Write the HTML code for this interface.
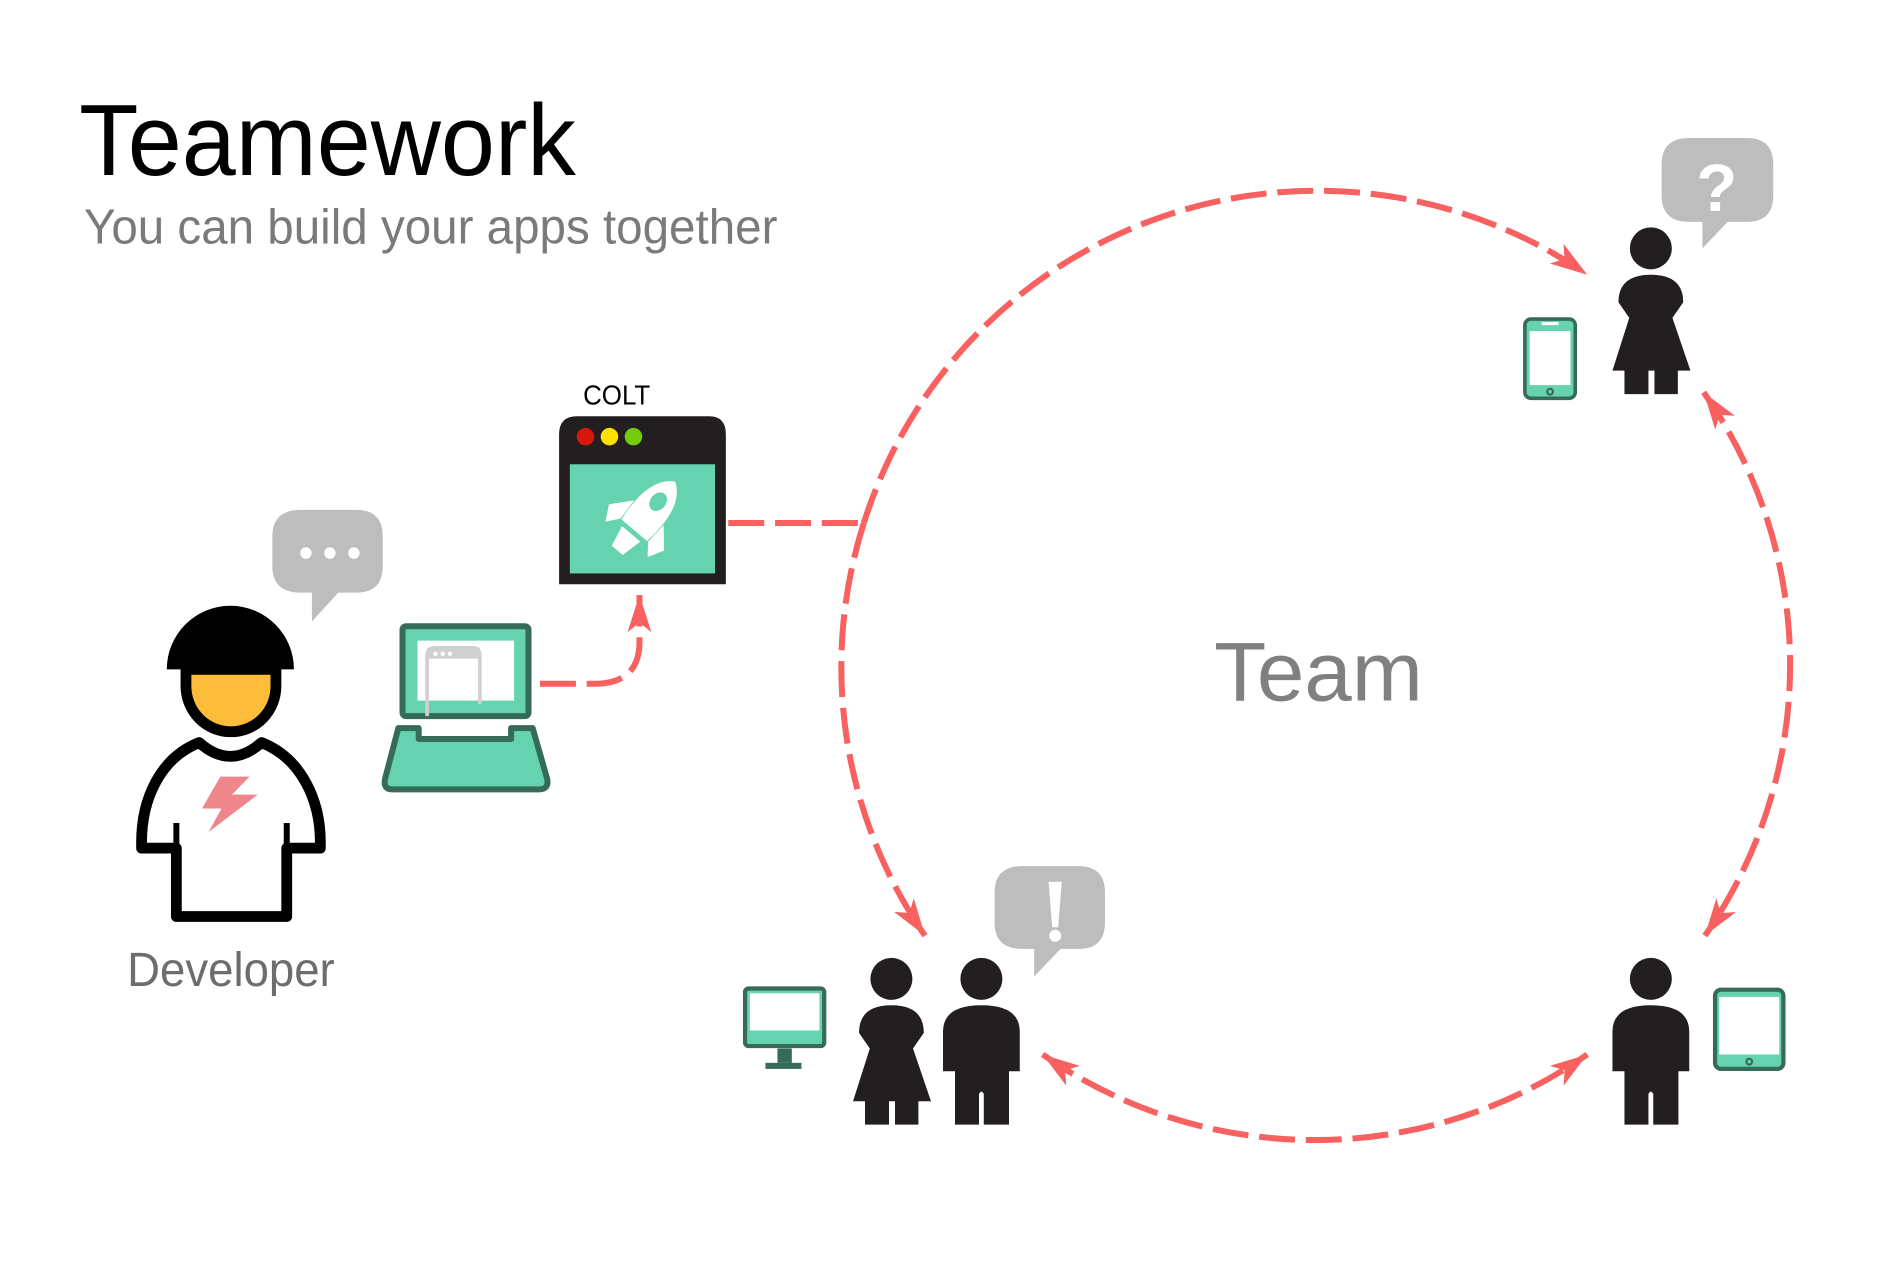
<!DOCTYPE html>
<html><head><meta charset="utf-8"><style>
html,body{margin:0;padding:0;background:#fff;}
svg{display:block;}
</style></head><body>
<svg width="1880" height="1280" viewBox="0 0 1567 1067" preserveAspectRatio="none" xmlns="http://www.w3.org/2000/svg">
<defs>
<marker id="ah" viewBox="-34 -12 36 24" refX="0" refY="0" markerWidth="36" markerHeight="24" markerUnits="userSpaceOnUse" orient="auto-start-reverse">
<path d="M0,0 L-31,-10 L-23,0 L-31,10 Z" fill="#f86160"/>
</marker>
<g id="man">
<circle cx="0" cy="0" r="17.5" fill="#231f20"/>
<path d="M-32,77 L-32,44 Q-32,22 0,22 Q32,22 32,44 L32,77 L23,77 L23,121.5 L2,121.5 L2,96 Q0,92 -2,96 L-2,121.5 L-22,121.5 L-22,77 Z" fill="#231f20"/>
</g>
<g id="woman">
<circle cx="0" cy="0" r="17.5" fill="#231f20"/>
<path d="M-27,45 Q-27,22 0,22 Q27,22 27,45 L18,58 L33,102 L22.5,102 L22.5,121.5 L3,121.5 L3,102 L-2,102 L-2,121.5 L-22,121.5 L-22,102 L-32,102 L-18,58 Z" fill="#231f20"/>
</g>
</defs>

<text x="66" y="146" font-family="Liberation Sans, sans-serif" font-size="84" fill="#000" textLength="414" lengthAdjust="spacingAndGlyphs">Teamework</text>
<text x="70" y="203" font-family="Liberation Sans, sans-serif" font-size="41" fill="#7a7a7a" textLength="578" lengthAdjust="spacingAndGlyphs">You can build your apps together</text>
<text x="1012" y="584" font-family="Liberation Sans, sans-serif" font-size="70" fill="#808080" textLength="174" lengthAdjust="spacingAndGlyphs">Team</text>
<text x="106" y="822" font-family="Liberation Sans, sans-serif" font-size="40" fill="#6d6d6d" textLength="173" lengthAdjust="spacingAndGlyphs">Developer</text>
<text x="486" y="337" font-family="Liberation Sans, sans-serif" font-size="23" fill="#000" textLength="56" lengthAdjust="spacingAndGlyphs">COLT</text>

<!-- connectors -->
<g fill="none" stroke="#f86160" stroke-width="5" stroke-dasharray="30 9">
<path d="M607,436 L718,436"/>
<path d="M450,570 L495,570 Q532,570 533,537 L533,496" marker-end="url(#ah)"/>
<path d="M720,436 A396 395 0 0 1 1323,229" marker-end="url(#ah)"/>
<path d="M720,436 A396 395 0 0 0 771,780" marker-end="url(#ah)"/>
<path d="M1420,327 A396 395 0 0 1 1421,780" marker-start="url(#ah)" marker-end="url(#ah)"/>
<path d="M869,879 A396 395 0 0 0 1323,879" marker-start="url(#ah)" marker-end="url(#ah)"/>
</g>

<!-- COLT window -->
<path d="M466,487 L466,362 Q466,347 481,347 L591,347 Q605,347 605,362 L605,487 Z" fill="#231f20"/>
<rect x="475" y="387" width="121" height="91" fill="#66d3b0"/>
<circle cx="488" cy="364" r="7.3" fill="#d9180d"/>
<circle cx="508" cy="364" r="7.3" fill="#ffe000"/>
<circle cx="528" cy="364" r="7.3" fill="#76cc0a"/>
<g transform="translate(537,432) rotate(40)" fill="#fff">
<path d="M0,-40 C15,-31 17,-10 14,13 L-14,13 C-17,-10 -15,-31 0,-40 Z"/>
<ellipse cx="0" cy="-18" rx="6.5" ry="8.5" fill="#66d3b0"/>
<path d="M-16,-6 L-30,10 L-23,23 L-15,13 Z"/>
<path d="M16,-6 L30,10 L23,23 L15,13 Z"/>
<path d="M-10,17 L10,17 L6,35 L-6,35 Z"/>
</g>

<!-- laptop -->
<rect x="335.5" y="522" width="105" height="75" rx="3" fill="#66d3b0" stroke="#356b58" stroke-width="5"/>
<rect x="348" y="534" width="80.5" height="50" fill="#fff"/>
<path d="M356,597 L356,547 Q356,540 363,540 L394,540 Q400,540 400,547 L400,587" fill="none" stroke="#d0d0d0" stroke-width="3"/>
<rect x="356" y="540" width="44" height="9" fill="#d0d0d0"/>
<circle cx="363" cy="545" r="1.8" fill="#fff"/><circle cx="369" cy="545" r="1.8" fill="#fff"/><circle cx="375" cy="545" r="1.8" fill="#fff"/>
<path d="M332,607 L349,607 L349,616 L426,616 L426,607 L444,607 L456,649 Q458,658 449,658 L327,658 Q319,658 321,649 Z" fill="#66d3b0" stroke="#356b58" stroke-width="5" stroke-linejoin="round"/>

<!-- developer -->
<path d="M139,558 A53,53 0 0 1 245,558 Z" fill="#000"/>
<path d="M155,558 L155,572 A37.5,38 0 0 0 230,572 L230,558 Z" fill="#fdbd3b" stroke="#000" stroke-width="9"/>
<path d="M166,619 Q192,642 218,619 C251,632 267,667 267,702 L267,707 L239,707 L239,764 L147,764 L147,707 L118,707 L118,702 C118,667 133,632 166,619 Z" fill="#fff" stroke="#000" stroke-width="9" stroke-linejoin="round"/>
<path d="M147,707 L147,686 M239,707 L239,686" stroke="#000" stroke-width="5"/>
<path d="M183.6,647.4 L208,647.4 L193.3,662.4 L214.8,662.4 L173.9,693.6 L184.6,674 L168.4,674 Z" fill="#ee868c"/>
<!-- dev bubble -->
<path d="M251,425 L297,425 Q319,425 319,447 L319,472 Q319,494 297,494 L282,494 L260,518 L260,494 L251,494 Q227,494 227,472 L227,447 Q227,425 251,425 Z" fill="#bdbdbd"/>
<circle cx="255" cy="461" r="4.8" fill="#fff"/><circle cx="275" cy="461" r="4.8" fill="#fff"/><circle cx="295" cy="461" r="4.8" fill="#fff"/>

<!-- top right -->
<use href="#woman" x="1376" y="207"/>
<path d="M1408,115 L1456,115 Q1478,115 1478,137 L1478,163 Q1478,185 1456,185 L1440,185 L1419,207 L1419,185 L1408,185 Q1385,185 1385,163 L1385,137 Q1385,115 1408,115 Z" fill="#bdbdbd"/>
<text x="1431" y="176" font-family="Liberation Sans, sans-serif" font-size="56" font-weight="bold" fill="#fff" text-anchor="middle">?</text>
<rect x="1271" y="266" width="42" height="66" rx="5" fill="#66d3b0" stroke="#356b58" stroke-width="3"/>
<rect x="1275" y="276" width="34" height="45" fill="#fff"/>
<rect x="1285" y="268.5" width="14" height="2.5" fill="#fff"/>
<circle cx="1292" cy="326.5" r="2.4" fill="none" stroke="#356b58" stroke-width="1.8"/>

<!-- bottom left -->
<use href="#woman" x="743" y="816"/>
<use href="#man" x="818" y="816"/>
<path d="M852,722 L899,722 Q921,722 921,744 L921,769 Q921,791 899,791 L884,791 L862,814 L862,791 L852,791 Q829,791 829,769 L829,744 Q829,722 852,722 Z" fill="#bdbdbd"/>
<path d="M874,735 L885,735 L882,773 L877,773 Z" fill="#fff"/>
<circle cx="879.5" cy="780" r="5" fill="#fff"/>
<rect x="621" y="824" width="66" height="48" rx="3" fill="#66d3b0" stroke="#356b58" stroke-width="3.5"/>
<rect x="625" y="828" width="58" height="31" fill="#fff"/>
<rect x="648" y="874" width="12" height="12" fill="#356b58"/>
<rect x="638" y="886" width="30" height="5" fill="#356b58"/>

<!-- bottom right -->
<use href="#man" x="1376" y="816"/>
<rect x="1429.5" y="825" width="57" height="66" rx="5" fill="#66d3b0" stroke="#356b58" stroke-width="3.5"/>
<rect x="1433" y="831" width="50" height="48" fill="#fff"/>
<circle cx="1458" cy="885" r="2.4" fill="none" stroke="#356b58" stroke-width="1.8"/>
</svg>
</body></html>
